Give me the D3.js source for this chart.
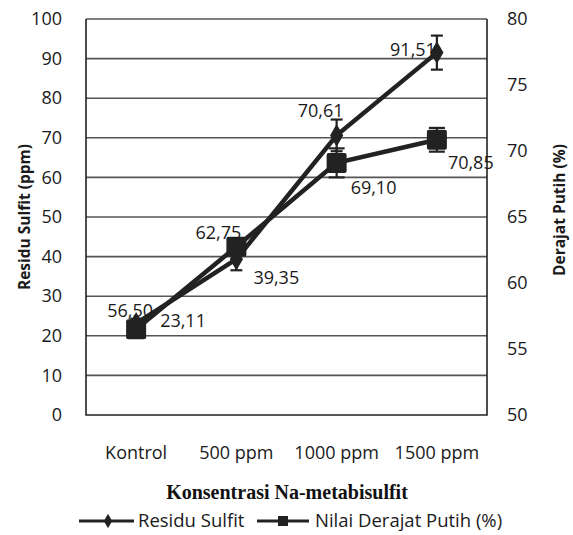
<!DOCTYPE html>
<html>
<head>
<meta charset="utf-8">
<script src="https://cdn.jsdelivr.net/npm/d3@7"></script>
<style>
  html, body { margin: 0; padding: 0; background: #fff; }
  svg { display: block; }
</style>
</head>
<body>
<svg id="chart" width="573" height="535"></svg>
<script>
// ─── Data ────────────────────────────────────────────────────────────────────
const categories   = ['Kontrol', '500 ppm', '1000 ppm', '1500 ppm'];
const residu       = [23.11, 39.35, 70.61, 91.51];   // left axis (ppm)
const residuErr    = [1.2, 2.8, 4.0, 4.3];
const derajat      = [56.50, 62.75, 69.10, 70.85];   // right axis (%)
const derajatErr   = [0.4, 0.6, 1.1, 0.9];
const residuLabels  = ['23,11', '39,35', '70,61', '91,51'];
const derajatLabels = ['56,50', '62,75', '69,10', '70,85'];
const leftTicks    = [0, 10, 20, 30, 40, 50, 60, 70, 80, 90, 100];
const rightTicks   = [50, 55, 60, 65, 70, 75, 80];

// ─── Style ───────────────────────────────────────────────────────────────────
const C = {
  ink:   '#222',
  grid:  '#555',
  text:  '#1a1a1a',
  font:  '"Open Sans", "Noto Sans", sans-serif',
  serif: '"Liberation Serif", "DejaVu Serif", serif',
};

const svg = d3.select('#chart');
const m = { left: 86, right: 487, top: 19, bottom: 415 };

const x = d3.scaleBand().domain(categories).range([m.left, m.right]);
const yL = d3.scaleLinear().domain([0, 100]).range([m.bottom, m.top]);
const yR = d3.scaleLinear().domain([50, 80]).range([m.bottom, m.top]);
const cx = (c) => x(c) + x.bandwidth() / 2;

// Gridlines
svg.append('g')
  .selectAll('line').data(leftTicks.filter((t) => t > 0)).enter().append('line')
  .attr('x1', m.left).attr('x2', m.right)
  .attr('y1', (t) => yL(t)).attr('y2', (t) => yL(t))
  .attr('stroke', C.grid).attr('stroke-width', 1.6);

// Frame: left, right, bottom
svg.append('path')
  .attr('d', `M${m.left},${m.top}V${m.bottom}H${m.right}V${m.top}`)
  .attr('fill', 'none').attr('stroke', C.ink).attr('stroke-width', 1.6);

// Left axis labels
const axL = svg.append('g').attr('transform', `translate(${m.left - 24},0)`)
  .call(d3.axisLeft(yL).tickValues(leftTicks).tickSize(0).tickPadding(0));
axL.select('.domain').remove();
axL.selectAll('text').attr('font-size', 18).attr('font-family', C.font).attr('fill', C.text);

// Right axis labels
const axR = svg.append('g').attr('transform', `translate(${m.right + 20},0)`)
  .call(d3.axisRight(yR).tickValues(rightTicks).tickSize(0).tickPadding(0));
axR.select('.domain').remove();
axR.selectAll('text').attr('font-size', 18).attr('font-family', C.font).attr('fill', C.text);

// Category labels
const axB = svg.append('g').attr('transform', `translate(0,${m.bottom + 31})`)
  .call(d3.axisBottom(x).tickSize(0).tickPadding(0));
axB.select('.domain').remove();
axB.selectAll('text').attr('font-size', 18).attr('font-family', C.font).attr('fill', C.text)
  .attr('dy', '0.71em').attr('y', 0);

// Axis titles
svg.append('text')
  .attr('transform', 'translate(25,217) rotate(-90)')
  .attr('text-anchor', 'middle').attr('dy', '0.35em').attr('font-size', 15.5).attr('font-weight', 700)
  .attr('font-family', C.font).attr('fill', C.text)
  .text('Residu Sulfit (ppm)');
svg.append('text')
  .attr('transform', 'translate(560,210) rotate(-90)')
  .attr('text-anchor', 'middle').attr('dy', '0.35em').attr('font-size', 15.5).attr('font-weight', 700)
  .attr('font-family', C.font).attr('fill', C.text)
  .text('Derajat Putih (%)');
svg.append('text')
  .attr('x', 287).attr('y', 499)
  .attr('text-anchor', 'middle').attr('font-size', 20).attr('font-weight', 700)
  .attr('font-family', C.serif).attr('fill', '#111')
  .text('Konsentrasi Na-metabisulfit');

// ─── Series ──────────────────────────────────────────────────────────────────
const lineR = d3.line().x((d, i) => cx(categories[i])).y((d) => yL(d));
const lineD = d3.line().x((d, i) => cx(categories[i])).y((d) => yR(d));
const diamond = d3.symbol().type(d3.symbolDiamond).size(150);

function errorBars(vals, errs, scale, capW) {
  const g = svg.append('g').attr('stroke', C.ink).attr('stroke-width', 2.2);
  vals.forEach((v, i) => {
    const px = cx(categories[i]);
    const y0 = scale(v - errs[i]);
    const y1 = scale(v + errs[i]);
    g.append('line').attr('x1', px).attr('x2', px).attr('y1', y0).attr('y2', y1);
    g.append('line').attr('x1', px - capW / 2).attr('x2', px + capW / 2).attr('y1', y0).attr('y2', y0);
    g.append('line').attr('x1', px - capW / 2).attr('x2', px + capW / 2).attr('y1', y1).attr('y2', y1);
  });
}

// Residu Sulfit (diamonds)
errorBars(residu, residuErr, yL, 12);
svg.append('path').datum(residu).attr('d', lineR)
  .attr('fill', 'none').attr('stroke', C.ink).attr('stroke-width', 4.5);
svg.append('g').selectAll('path.pt').data(residu).enter().append('path')
  .attr('transform', (d, i) => `translate(${cx(categories[i])},${yL(d)})`)
  .attr('d', diamond).attr('fill', C.ink);

// Nilai Derajat Putih (squares)
errorBars(derajat, derajatErr, yR, 16);
svg.append('path').datum(derajat).attr('d', lineD)
  .attr('fill', 'none').attr('stroke', C.ink).attr('stroke-width', 4.5);
svg.append('g').selectAll('rect').data(derajat).enter().append('rect')
  .attr('x', (d, i) => cx(categories[i]) - 10).attr('y', (d) => yR(d) - 10)
  .attr('width', 20).attr('height', 20).attr('rx', 2).attr('fill', C.ink);

// Data labels (offsets relative to each point)
const residuPos  = [[24, -3, 'start'], [17, 19, 'start'], [-16, -25, 'middle'], [-1, -3, 'end']];
const derajatPos = [[-6, -19, 'middle'], [-18, -14, 'middle'], [14, 25, 'start'], [11, 23, 'start']];

function dataLabels(vals, texts, scale, pos) {
  svg.append('g').selectAll('text').data(vals).enter().append('text')
    .attr('x', (d, i) => cx(categories[i]) + pos[i][0])
    .attr('y', (d, i) => scale(d) + pos[i][1])
    .attr('dy', '0.35em').attr('text-anchor', (d, i) => pos[i][2])
    .attr('font-size', 18).attr('font-family', C.font).attr('fill', C.text)
    .text((d, i) => texts[i]);
}
dataLabels(residu, residuLabels, yL, residuPos);
dataLabels(derajat, derajatLabels, yR, derajatPos);

// ─── Legend ──────────────────────────────────────────────────────────────────
const lg = svg.append('g').attr('transform', 'translate(0,521)');
lg.append('line').attr('x1', 79).attr('x2', 134).attr('stroke', C.ink).attr('stroke-width', 3);
lg.append('path').attr('transform', 'translate(108,0)')
  .attr('d', d3.symbol().type(d3.symbolDiamond).size(60)).attr('fill', C.ink);
lg.append('text').attr('x', 138).attr('dy', '0.35em')
  .attr('font-size', 18.5).attr('font-family', C.font).attr('fill', C.text).text('Residu Sulfit');
lg.append('line').attr('x1', 257).attr('x2', 309).attr('stroke', C.ink).attr('stroke-width', 3);
lg.append('rect').attr('x', 278).attr('y', -5).attr('width', 10).attr('height', 10).attr('fill', C.ink);
lg.append('text').attr('x', 315).attr('dy', '0.35em')
  .attr('font-size', 18.5).attr('font-family', C.font).attr('fill', C.text).text('Nilai Derajat Putih (%)');
</script>
</body>
</html>
